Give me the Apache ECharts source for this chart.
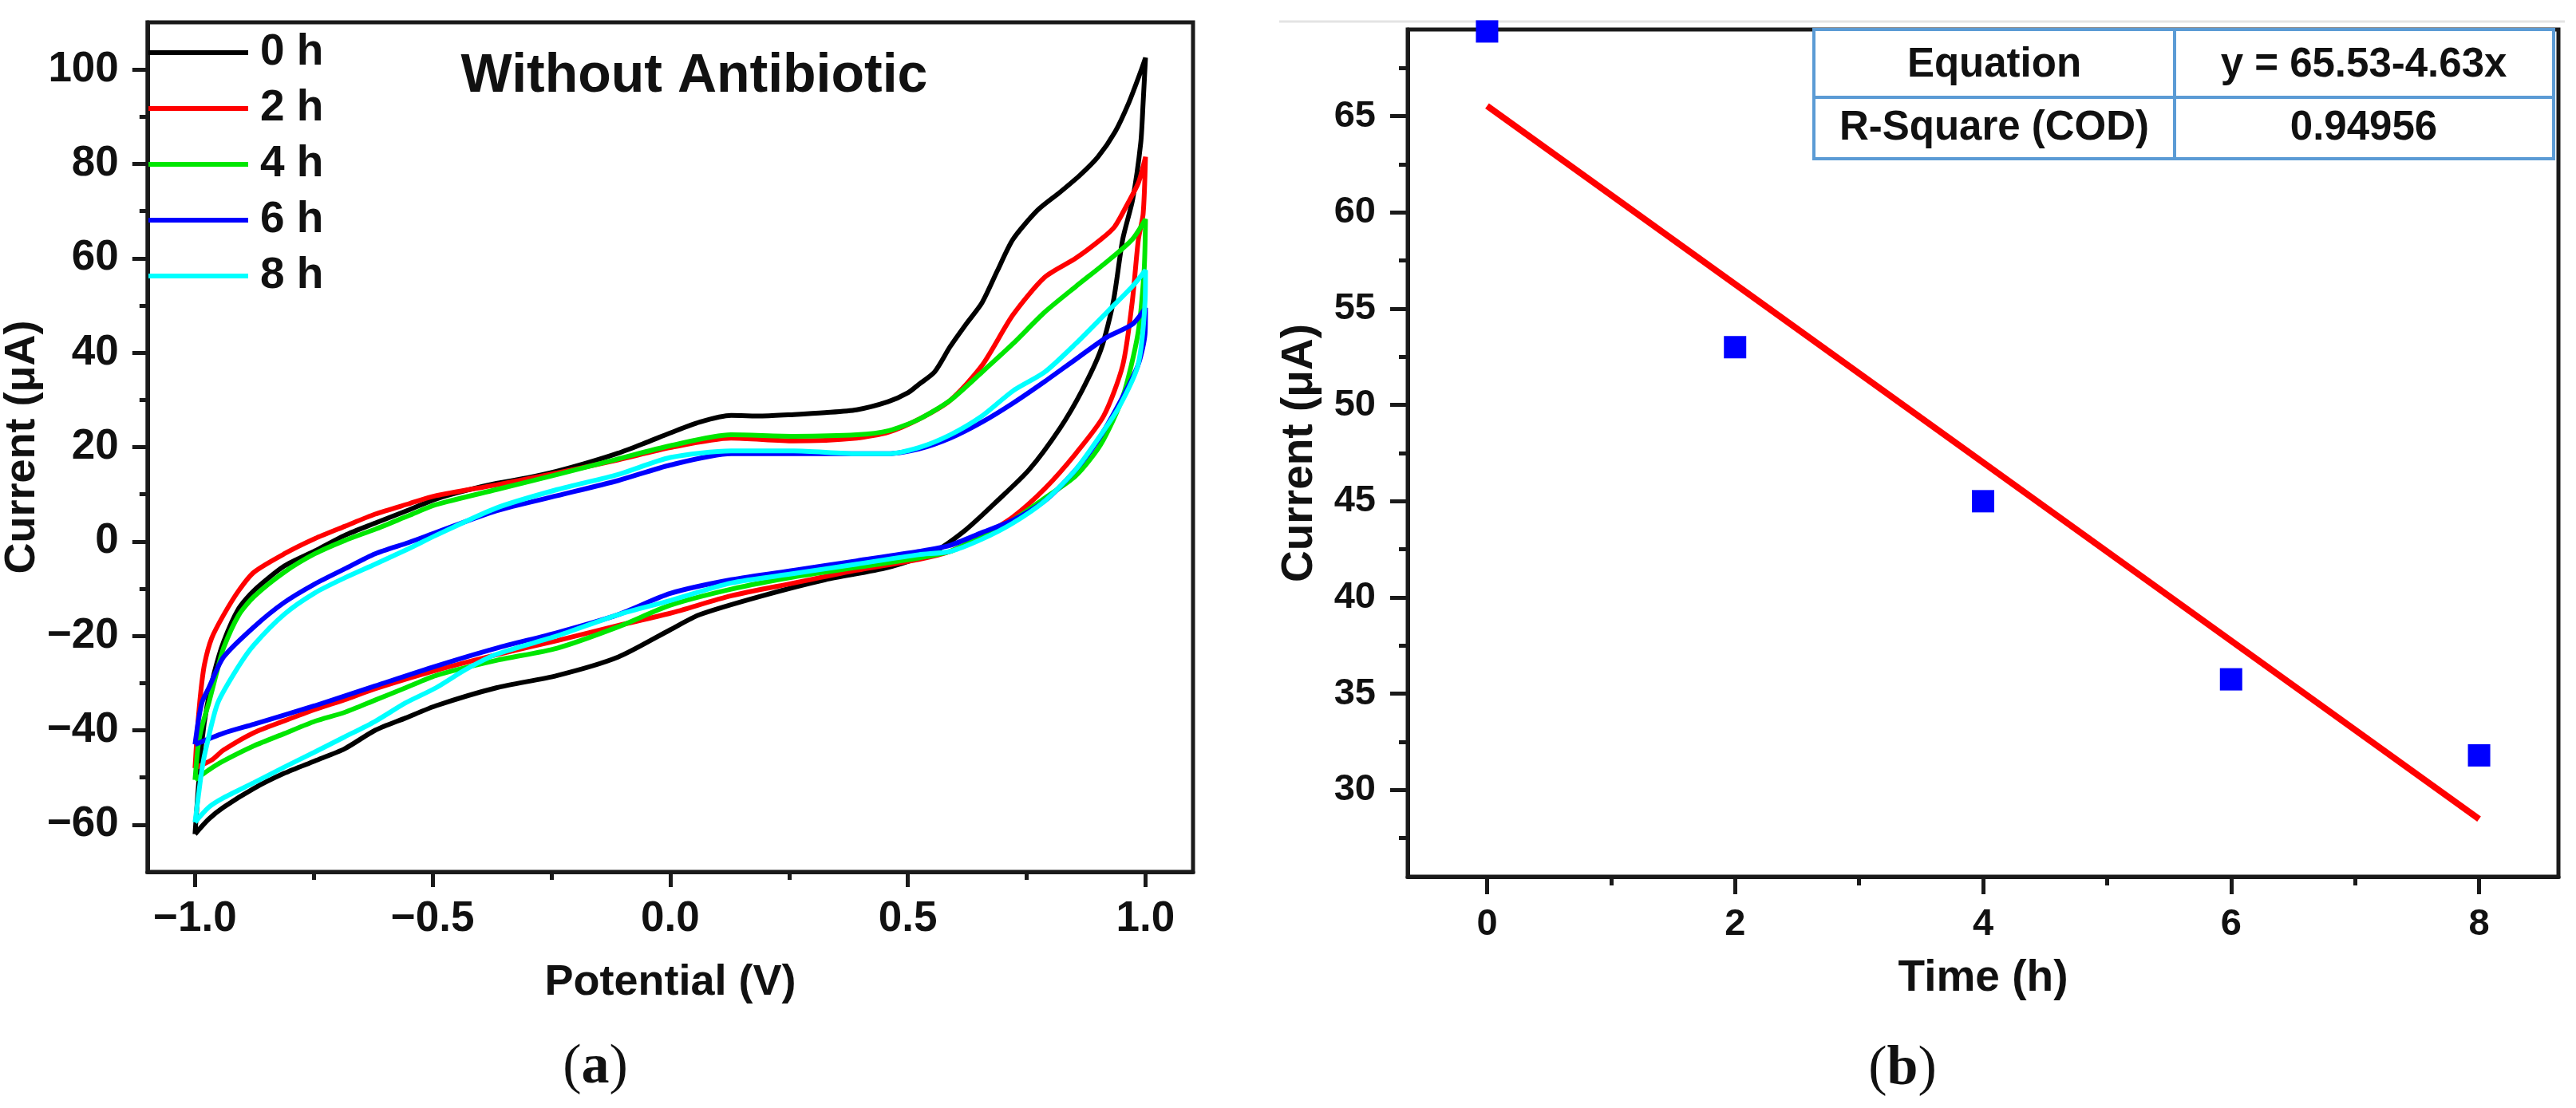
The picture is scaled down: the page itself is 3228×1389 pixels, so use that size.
<!DOCTYPE html>
<html>
<head>
<meta charset="utf-8">
<script src="https://cdn.jsdelivr.net/npm/echarts@6/dist/echarts.min.js"></script>
<style>
  html, body { margin: 0; padding: 0; background: #fff; }
  #chart { width: 3228px; height: 1389px; }
</style>
</head>
<body>
<div id="chart"></div>
<script>
const FONT = '"Liberation Sans", Arial, sans-serif';
const SERIF = '"Liberation Serif", "Times New Roman", serif';
const AXIS = '#1a1a1a';

// (a) cyclic voltammograms, [potential V, current uA], forward branch then reverse
const cvLabels = ['0 h', '2 h', '4 h', '6 h', '8 h'];
const cvColors = ['#000000', '#ff0000', '#00e600', '#0000ff', '#00ffff'];

const cv0h = [
  [-1.0,-62],[-0.993,-52],[-0.985,-42],[-0.975,-35],[-0.96,-28],[-0.94,-21.3],[-0.908,-14.2],[-0.876,-10.4],
  [-0.812,-5.2],[-0.748,-2.0],[-0.685,1.3],[-0.621,3.9],[-0.55,6.7],[-0.493,9.0],[-0.43,10.8],[-0.366,12.3],
  [-0.3,13.5],[-0.238,14.9],[-0.17,16.8],[-0.11,18.7],[-0.05,21],[0.0,23.0],[0.062,25.3],[0.128,26.7],
  [0.194,26.6],[0.26,26.9],[0.326,27.3],[0.392,27.9],[0.458,29.6],[0.5,31.5],[0.523,33.3],[0.556,35.9],
  [0.589,41.3],[0.622,46.0],[0.656,50.6],[0.688,57.3],[0.721,64.0],[0.773,70.2],[0.82,74],[0.863,77.7],
  [0.9,81.5],[0.936,86.8],[0.965,93],[0.99,99.6],[1.0,102.5],
  [0.995,93],[0.99,84.5],[0.973,72.5],[0.952,64],[0.932,50.7],[0.906,40.6],[0.866,31.9],[0.82,24.0],
  [0.755,15.2],[0.688,8.6],[0.622,2.5],[0.556,-2.1],[0.458,-5.5],[0.326,-8.1],[0.194,-11.5],[0.062,-15.5],
  [0.0,-18.7],[-0.11,-24.5],[-0.238,-28.4],[-0.366,-31.0],[-0.493,-34.8],[-0.557,-37.4],[-0.621,-40.0],
  [-0.685,-43.9],[-0.748,-46.5],[-0.812,-49.1],[-0.876,-52.3],[-0.94,-56.3],[-0.971,-58.8],[-1.0,-62]
];
const cv2h = [
  [-1.0,-48],[-0.995,-40],[-0.988,-32],[-0.98,-26],[-0.965,-20.5],[-0.94,-15.6],[-0.908,-10.4],[-0.876,-6.5],
  [-0.812,-2.6],[-0.748,0.6],[-0.685,3.2],[-0.621,5.8],[-0.55,8.0],[-0.493,9.7],[-0.366,12.0],[-0.238,14.5],
  [-0.11,17.3],[0.0,19.9],[0.128,21.9],[0.26,21.3],[0.392,21.9],[0.46,23.2],[0.523,25.9],[0.589,29.9],
  [0.656,37.3],[0.721,48.0],[0.788,56.0],[0.853,60.0],[0.906,64.0],[0.935,66.7],[0.963,71.7],[0.985,76],[1.0,81.5],
  [0.995,69.4],[0.985,64],[0.972,50.7],[0.952,37.3],[0.912,26.6],[0.853,18.6],[0.788,11.2],[0.721,5.2],
  [0.656,1.2],[0.589,-2.1],[0.523,-3.8],[0.392,-6.1],[0.26,-8.8],[0.128,-11.5],[0.0,-15.2],[-0.11,-17.8],
  [-0.238,-21.0],[-0.366,-24.0],[-0.493,-27.3],[-0.621,-31.2],[-0.685,-33.5],[-0.748,-35.6],[-0.812,-38],
  [-0.876,-40.5],[-0.94,-44.2],[-0.965,-46.3],[-1.0,-48]
];
const cv4h = [
  [-1.0,-50.5],[-0.993,-43],[-0.985,-39],[-0.971,-34.2],[-0.955,-28],[-0.94,-22.6],[-0.908,-15.6],[-0.876,-11.7],
  [-0.812,-6.5],[-0.748,-2.6],[-0.685,0.2],[-0.621,2.6],[-0.55,5.5],[-0.493,7.8],[-0.366,11.0],[-0.238,14.2],
  [-0.11,17.5],[0.0,20.3],[0.128,22.6],[0.26,22.3],[0.392,22.6],[0.46,23.5],[0.523,25.9],[0.589,29.9],
  [0.656,35.9],[0.721,41.9],[0.788,48.6],[0.853,54.0],[0.919,59.3],[0.972,64.0],[1.0,68.3],
  [0.997,57.3],[0.984,44.0],[0.952,30.6],[0.906,20.6],[0.853,13.9],[0.788,9.2],[0.721,4.5],[0.656,1.2],
  [0.589,-2.1],[0.523,-3.5],[0.392,-5.5],[0.26,-7.5],[0.128,-10.1],[0.0,-13.5],[-0.11,-18.1],[-0.238,-22.6],
  [-0.366,-25.2],[-0.493,-28.4],[-0.557,-31.0],[-0.621,-33.6],[-0.685,-36.2],[-0.748,-38.1],[-0.812,-40.7],
  [-0.876,-43.3],[-0.94,-46.5],[-0.971,-48.4],[-1.0,-50.5]
];
const cv6h = [
  [-1.0,-43],[-0.993,-38],[-0.985,-34],[-0.971,-31.0],[-0.94,-24.5],[-0.876,-18.1],[-0.812,-12.9],[-0.748,-9.0],
  [-0.685,-5.8],[-0.621,-2.6],[-0.55,-0.2],[-0.493,1.9],[-0.366,6.5],[-0.238,9.7],[-0.11,12.9],[0.0,16.2],
  [0.128,18.6],[0.26,18.6],[0.392,18.6],[0.458,18.6],[0.523,19.6],[0.589,21.9],[0.656,25.3],[0.721,29.3],
  [0.788,33.9],[0.853,38.6],[0.919,43.3],[0.972,46.0],[1.0,49.5],
  [0.999,44.0],[0.984,37.3],[0.945,29.3],[0.899,21.3],[0.853,15.2],[0.788,8.6],[0.721,4.5],[0.656,1.9],
  [0.589,-0.8],[0.523,-2.1],[0.392,-4.1],[0.26,-6.1],[0.128,-8.1],[0.0,-11.0],[-0.11,-15.5],[-0.238,-19.3],
  [-0.366,-22.6],[-0.493,-26.4],[-0.621,-30.6],[-0.748,-34.8],[-0.876,-38.7],[-0.94,-40.6],[-1.0,-43]
];
const cv8h = [
  [-1.0,-59.5],[-0.993,-54],[-0.985,-48],[-0.977,-43.9],[-0.952,-34.2],[-0.908,-26.4],[-0.876,-21.9],[-0.812,-15.4],
  [-0.748,-10.9],[-0.685,-7.7],[-0.621,-4.8],[-0.55,-1.5],[-0.493,1.3],[-0.366,7.1],[-0.238,11.0],[-0.11,14.2],
  [0.0,17.8],[0.128,19.2],[0.26,19.2],[0.392,18.6],[0.458,18.6],[0.523,19.9],[0.589,22.6],[0.656,26.6],
  [0.721,31.9],[0.788,35.9],[0.853,41.9],[0.919,48.6],[0.972,54.0],[1.0,57.5],
  [0.999,50.7],[0.984,37.3],[0.945,28.6],[0.906,22.6],[0.853,15.2],[0.788,8.6],[0.721,3.9],[0.656,0.5],
  [0.589,-2.1],[0.523,-2.8],[0.392,-4.8],[0.26,-6.8],[0.128,-8.8],[0.0,-12.5],[-0.11,-15.5],[-0.238,-20.0],
  [-0.366,-23.9],[-0.43,-27.1],[-0.493,-31.0],[-0.557,-34.2],[-0.621,-38.1],[-0.685,-41.4],[-0.748,-44.6],
  [-0.812,-47.8],[-0.876,-51.1],[-0.94,-54.3],[-0.971,-56.3],[-1.0,-59.5]
];
const cvData = [cv0h, cv2h, cv4h, cv6h, cv8h];

const potentialTicks = [-1, -0.5, 0, 0.5, 1];
const potentialMinor = [-0.75, -0.25, 0.25, 0.75];
const currentTicksA = [-60, -40, -20, 0, 20, 40, 60, 80, 100];
const currentMinorA = [-50, -30, -10, 10, 30, 50, 70, 90];

// (b) peak current vs time and linear fit
const timeHours = [0, 2, 4, 6, 8];
const peakCurrent = [69.4, 53.0, 45.0, 35.75, 31.8];
const fitTime = [0, 8];
const fitCurrent = [65.53, 28.49];
const timeTicks = [0, 2, 4, 6, 8];
const timeMinor = [1, 3, 5, 7];
const currentTicksB = [30, 35, 40, 45, 50, 55, 60, 65];
const currentMinorB = [27.5, 32.5, 37.5, 42.5, 47.5, 52.5, 57.5, 62.5, 67.5];
const fitTable = [['Equation', 'y = 65.53-4.63x'], ['R-Square (COD)', '0.94956']];

function minus(v, digits) {
  const s = Math.abs(v).toFixed(digits);
  return v < 0 ? '\u2212' + s : s;
}

function majorAxis(o) {
  return {
    type: 'value', gridIndex: o.grid, min: o.min, max: o.max, position: o.position,
    axisLine: { show: true, onZero: false, lineStyle: { color: AXIS, width: 5 } },
    axisTick: { show: true, customValues: o.ticks, length: o.tickLen, lineStyle: { color: AXIS, width: 5 } },
    axisLabel: {
      show: true, customValues: o.ticks, formatter: o.formatter, margin: o.margin,
      fontSize: o.fontSize, fontWeight: 'bold', fontFamily: FONT, color: '#111'
    },
    splitLine: { show: false },
    name: o.name, nameLocation: 'middle', nameGap: o.nameGap,
    nameTextStyle: { fontSize: o.nameSize, fontWeight: 'bold', fontFamily: FONT, color: '#111' }
  };
}

function minorAxis(o) {
  return {
    type: 'value', gridIndex: o.grid, min: o.min, max: o.max, position: o.position,
    axisLine: { show: false, onZero: false },
    axisTick: { show: true, customValues: o.ticks, length: o.tickLen, lineStyle: { color: AXIS, width: 5 } },
    axisLabel: { show: false },
    splitLine: { show: false }
  };
}

const chart = echarts.init(document.getElementById('chart'), null, { renderer: 'canvas' });

const cvSeries = cvData.map((d, i) => ({
  name: cvLabels[i],
  type: 'line',
  xAxisIndex: 0, yAxisIndex: 0,
  data: d,
  showSymbol: false, symbol: 'none',
  smooth: 0.25,
  lineStyle: { color: cvColors[i], width: 6 },
  itemStyle: { color: cvColors[i] },
  animation: false
}));

chart.setOption({
  backgroundColor: '#ffffff',
  animation: false,
  grid: [
    { left: 171, top: 28, width: 1324, height: 1065, show: true, borderColor: AXIS, borderWidth: 5 },
    { left: 1764, top: 37, width: 1442, height: 1062, show: true, borderColor: AXIS, borderWidth: 5 }
  ],
  legend: {
    data: cvLabels, orient: 'vertical', left: 181, top: 32,
    icon: 'rect', itemWidth: 125, itemHeight: 6, itemGap: 12,
    textStyle: { fontSize: 55, fontWeight: 'bold', fontFamily: FONT, color: '#111', lineHeight: 58, padding: [0, 0, 0, 10] }
  },
  xAxis: [
    majorAxis({ grid: 0, min: -1.1, max: 1.1, position: 'bottom', ticks: potentialTicks, tickLen: 19,
      formatter: v => minus(v, 1), margin: 33, fontSize: 53, name: 'Potential (V)', nameGap: 112, nameSize: 54 }),
    minorAxis({ grid: 0, min: -1.1, max: 1.1, position: 'bottom', ticks: potentialMinor, tickLen: 10 }),
    majorAxis({ grid: 1, min: -0.64, max: 8.64, position: 'bottom', ticks: timeTicks, tickLen: 22,
      formatter: v => String(v), margin: 37, fontSize: 47, name: 'Time (h)', nameGap: 100, nameSize: 55 }),
    minorAxis({ grid: 1, min: -0.64, max: 8.64, position: 'bottom', ticks: timeMinor, tickLen: 11 })
  ],
  yAxis: [
    majorAxis({ grid: 0, min: -70, max: 110, position: 'left', ticks: currentTicksA, tickLen: 19,
      formatter: v => minus(v, 0), margin: 36, fontSize: 53, name: 'Current (\u03bcA)', nameGap: 112, nameSize: 54 }),
    minorAxis({ grid: 0, min: -70, max: 110, position: 'left', ticks: currentMinorA, tickLen: 10 }),
    majorAxis({ grid: 1, min: 25.5, max: 69.5, position: 'left', ticks: currentTicksB, tickLen: 22,
      formatter: v => String(v), margin: 40, fontSize: 47, name: 'Current (\u03bcA)', nameGap: 108, nameSize: 55 }),
    minorAxis({ grid: 1, min: 25.5, max: 69.5, position: 'left', ticks: currentMinorB, tickLen: 11 })
  ],
  series: cvSeries.concat([
    {
      type: 'line', xAxisIndex: 2, yAxisIndex: 2,
      data: fitTime.map((t, i) => [t, fitCurrent[i]]),
      showSymbol: false, symbol: 'none',
      lineStyle: { color: '#ff0000', width: 8 }
    },
    {
      type: 'scatter', xAxisIndex: 2, yAxisIndex: 2,
      data: timeHours.map((t, i) => [t, peakCurrent[i]]),
      symbol: 'rect', symbolSize: 28, clip: false,
      itemStyle: { color: '#0000ff', opacity: 1 }
    }
  ]),
  graphic: [
    { type: 'text', x: 870, y: 96, style: { text: 'Without Antibiotic', fontSize: 68, fontWeight: 'bold',
        fontFamily: FONT, fill: '#111', textAlign: 'center', textVerticalAlign: 'middle' } },
    { type: 'line', shape: { x1: 1603, y1: 27, x2: 3214, y2: 27 }, style: { stroke: '#e4e4e4', lineWidth: 3 } },
    { type: 'rect', shape: { x: 2273, y: 37, width: 927, height: 162 },
      style: { fill: '#fff', stroke: '#5b9bd5', lineWidth: 4 } },
    { type: 'line', shape: { x1: 2273, y1: 122, x2: 3200, y2: 122 }, style: { stroke: '#5b9bd5', lineWidth: 4 } },
    { type: 'line', shape: { x1: 2725, y1: 37, x2: 2725, y2: 199 }, style: { stroke: '#5b9bd5', lineWidth: 4 } },
    { type: 'text', x: 2499, y: 82, style: { text: fitTable[0][0], fontSize: 51, fontWeight: 'bold', fontFamily: FONT,
        fill: '#111', textAlign: 'center', textVerticalAlign: 'middle' } },
    { type: 'text', x: 2962, y: 82, style: { text: fitTable[0][1], fontSize: 51, fontWeight: 'bold', fontFamily: FONT,
        fill: '#111', textAlign: 'center', textVerticalAlign: 'middle' } },
    { type: 'text', x: 2499, y: 161, style: { text: fitTable[1][0], fontSize: 51, fontWeight: 'bold', fontFamily: FONT,
        fill: '#111', textAlign: 'center', textVerticalAlign: 'middle' } },
    { type: 'text', x: 2962, y: 161, style: { text: fitTable[1][1], fontSize: 51, fontWeight: 'bold', fontFamily: FONT,
        fill: '#111', textAlign: 'center', textVerticalAlign: 'middle' } },
    { type: 'text', x: 746, y: 1339, style: { text: '{p|(}{b|a}{p|)}', textAlign: 'center', textVerticalAlign: 'middle',
        rich: { p: { fontSize: 70, fontFamily: SERIF, fill: '#111' }, b: { fontSize: 70, fontFamily: SERIF, fontWeight: 'bold', fill: '#111' } } } },
    { type: 'text', x: 2384, y: 1341, style: { text: '{p|(}{b|b}{p|)}', textAlign: 'center', textVerticalAlign: 'middle',
        rich: { p: { fontSize: 70, fontFamily: SERIF, fill: '#111' }, b: { fontSize: 70, fontFamily: SERIF, fontWeight: 'bold', fill: '#111' } } } }
  ]
});
</script>
</body>
</html>
